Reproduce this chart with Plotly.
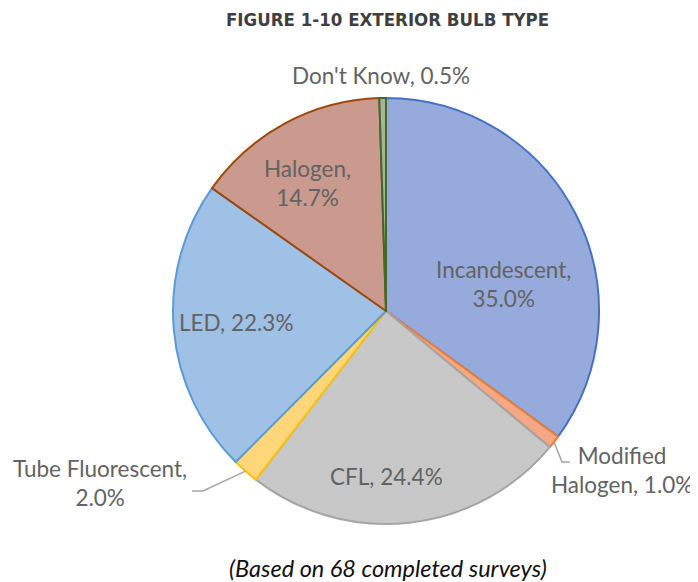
import math
import plotly.graph_objects as go

W, H = 698, 582
OFF = 8  # page body margin offset

labels = ["Incandescent", "Modified Halogen", "CFL", "Tube Fluorescent", "LED", "Halogen", "Don't Know"]
values = [35.0, 1.0, 24.4, 2.0, 22.3, 14.7, 0.5]
fill_colors = ["#97AADC", "#F4A886", "#C8C8C8", "#FFD679", "#9FC1E6", "#C99A8D", "#A5B59A"]
line_colors = ["#4472C4", "#ED7D31", "#A5A5A5", "#FFC000", "#5B9BD5", "#9E480E", "#43682B"]
label_texts = ["Incandescent,<br>35.0%", "Modified<br>Halogen, 1.0%", "CFL, 24.4%",
               "Tube Fluorescent,<br>2.0%", "LED, 22.3%", "Halogen,<br>14.7%", "Don't Know, 0.5%"]
# label anchor positions (pixels)
label_pos = [(503, 284), (622, 470), (386, 476), (100, 483), (236, 322), (307, 183), (381, 75)]

CX, CY, R = 386, 311, 213


def px(x):
    return (x - OFF) / W


def py(y):
    return 1 - (y - OFF) / H


fig = go.Figure(go.Pie(
    labels=labels, values=values, sort=False, direction="clockwise", rotation=0,
    marker=dict(colors=fill_colors, line=dict(color=line_colors, width=2)),
    textinfo="none", hoverinfo="label+percent", showlegend=False,
    domain=dict(x=[px(CX - R), px(CX + R)], y=[py(CY + R), py(CY - R)]),
))

font = dict(family="Lato, Carlito, sans-serif", size=22.5, color="#636363")
for t, (x, y) in zip(label_texts, label_pos):
    fig.add_annotation(x=px(x), y=py(y), xref="paper", yref="paper", text=t,
                       xanchor="center", yanchor="middle",
                       showarrow=False, font=font, align="center")

# leader lines from slice mid-angle edges
total = sum(values)
cum = 0
mids = []
for v in values:
    mids.append((cum + v / 2) / total * 2 * math.pi)
    cum += v


def edge(i):
    a = mids[i]
    return CX + R * math.sin(a), CY - R * math.cos(a)


ex, ey = edge(1)
fig.add_shape(type="path", xref="paper", yref="paper",
              path=f"M {px(ex)} {py(ey)} L {px(562)} {py(462)} L {px(570)} {py(462)}",
              line=dict(color="#A6A6A6", width=1.5))
ex, ey = edge(3)
fig.add_shape(type="path", xref="paper", yref="paper",
              path=f"M {px(ex)} {py(ey)} L {px(203)} {py(491)} L {px(192)} {py(491)}",
              line=dict(color="#A6A6A6", width=1.5))

fig.add_annotation(x=px(387), y=py(19), xref="paper", yref="paper",
                   xanchor="center", yanchor="middle",
                   text="<b>FIGURE 1-10 EXTERIOR BULB TYPE</b>", showarrow=False,
                   font=dict(family="DejaVu Sans Condensed, DejaVu Sans", size=18.5, color="#3F3F3F"))
fig.add_annotation(x=px(388), y=py(568), xref="paper", yref="paper",
                   xanchor="center", yanchor="middle",
                   text="<i>(Based on 68 completed surveys)</i>", showarrow=False,
                   font=dict(family="Lato, sans-serif", size=23.5, color="#111111"))

fig.update_layout(width=W, height=H, margin=dict(l=0, r=0, t=0, b=0),
                  paper_bgcolor="white", plot_bgcolor="white")
fig.write_html("out.html")
